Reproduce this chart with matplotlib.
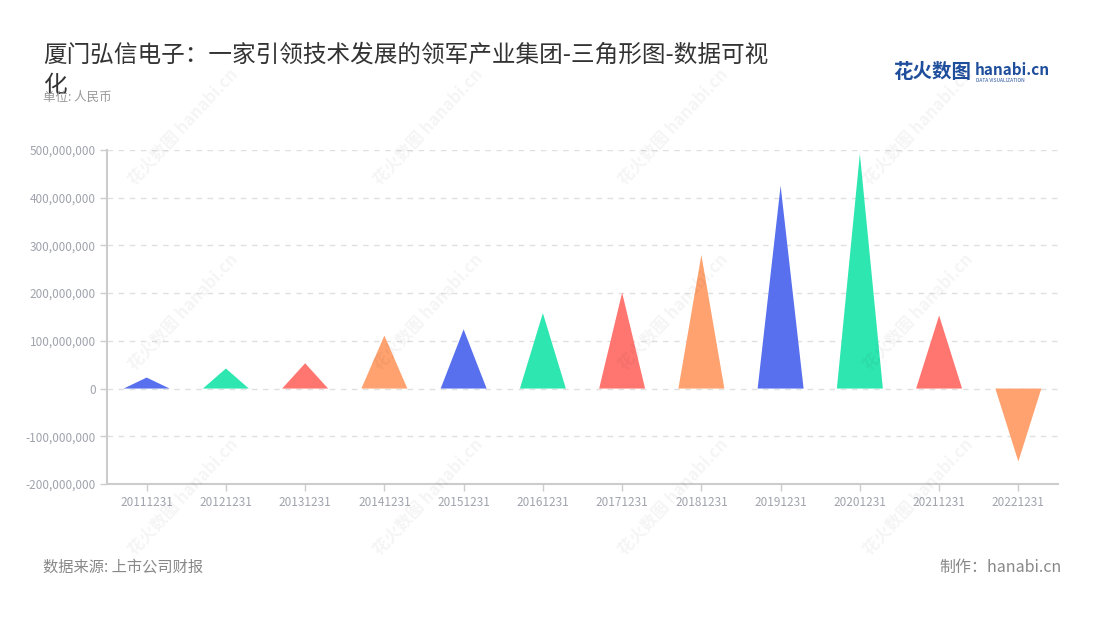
import matplotlib
matplotlib.use("Agg")
import matplotlib.pyplot as plt
from matplotlib.ticker import FuncFormatter, MultipleLocator
import numpy as np

plt.rcParams["font.family"] = ["Noto Sans CJK SC", "DejaVu Sans"]

# Data
years = ["20111231", "20121231", "20131231", "20141231", "20151231", "20161231",
         "20171231", "20181231", "20191231", "20201231", "20211231", "20221231"]
values = [23e6, 42e6, 53e6, 111e6, 124e6, 158e6,
          201e6, 280e6, 425e6, 492e6, 153e6, -153e6]
palette = ["#5870ED", "#2EE6B0", "#FF7671", "#FFA26F"]

tick_color = "#a0a3ad"
axis_color = "#cccccc"

fig = plt.figure(figsize=(11, 6.2), dpi=100)
ax = fig.add_axes([0.0973, 0.2194, 0.8645, 0.5387])

half_w = 0.29
for i, v in enumerate(years):
    val = values[i]
    ax.fill([i - half_w, i, i + half_w], [0, val, 0],
            color=palette[i % len(palette)], linewidth=0, zorder=3)

ax.set_xlim(-0.5, len(years) - 0.5)
ax.set_ylim(-200e6, 500e6)
ax.yaxis.set_major_locator(MultipleLocator(100e6))
ax.yaxis.set_major_formatter(FuncFormatter(lambda v, p: f"{int(round(v)):,}"))
ax.set_xticks(np.arange(len(years)))
ax.set_xticklabels(years)

ax.grid(axis="y", color="#e0e0e0", linestyle=(0, (4, 4)), linewidth=1, zorder=0)
ax.set_axisbelow(True)

for s in ["top", "right"]:
    ax.spines[s].set_visible(False)
ax.spines["left"].set_color(axis_color)
ax.spines["bottom"].set_color(axis_color)
ax.spines["left"].set_linewidth(1.5)
ax.spines["bottom"].set_linewidth(1.5)
ax.tick_params(axis="y", colors=axis_color, labelcolor=tick_color, labelsize=8.5, length=5, width=1, pad=3)
ax.tick_params(axis="x", colors=axis_color, labelcolor=tick_color, labelsize=8.5, length=5, width=1, pad=4)

# Title and notes (title wraps onto a second line, as in the original)
fig.text(43 / 1100, 1 - 55 / 620, "厦门弘信电子：一家引领技术发展的领军产业集团-三角形图-数据可视",
         fontsize=17, color="#333333", ha="left", va="center")
fig.text(43 / 1100, 1 - 86 / 620, "化", fontsize=17, color="#333333", ha="left", va="center")
fig.text(43 / 1100, 1 - 97 / 620, "单位: 人民币", fontsize=9, color="#999999", ha="left", va="center")

fig.text(43 / 1100, 1 - 567 / 620, "数据来源: 上市公司财报", fontsize=11, color="#888888", ha="left", va="center")
fig.text(1062 / 1100, 1 - 567 / 620, "制作：hanabi.cn", fontsize=11.5, color="#888888", ha="right", va="center")

# Logo
fig.text(893 / 1100, 1 - 73 / 620, "花火数图", fontsize=14, fontweight="bold", color="#1f4e9c",
         ha="left", va="center")
fig.text(975 / 1100, 1 - 70 / 620, "hanabi.cn", fontsize=11, fontweight="bold", color="#1f4e9c",
         ha="left", va="center")
fig.text(976 / 1100, 1 - 81 / 620, "DATA VISUALIZATION", fontsize=3.5, color="#1f4e9c",
         ha="left", va="center")

# Watermarks
for cx in [183, 428, 673, 918]:
    for cy in [127, 312, 497]:
        fig.text(cx / 1100, 1 - cy / 620, "花火数图 hanabi.cn", fontsize=12, fontweight="bold",
                 color="#000000", alpha=0.045, rotation=47, ha="center", va="center",
                 rotation_mode="anchor")

plt.savefig("out.png", dpi=100)
